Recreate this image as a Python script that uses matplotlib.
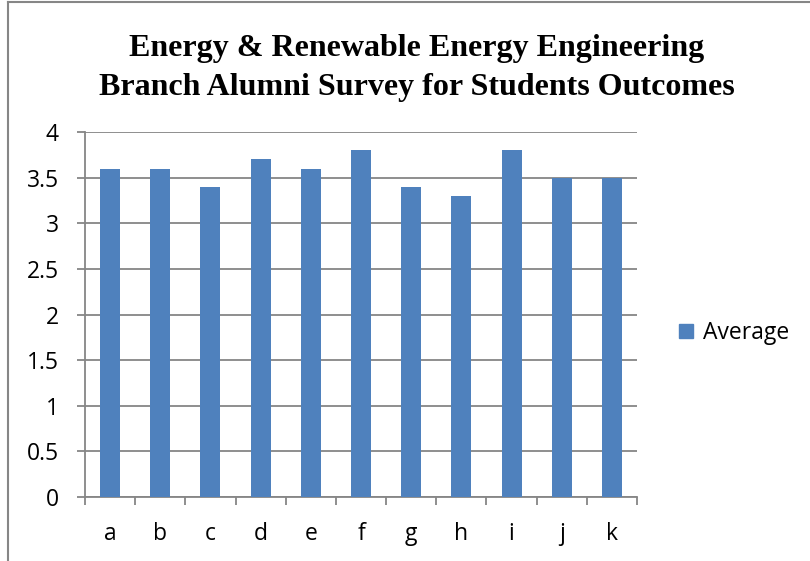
import matplotlib
matplotlib.use("Agg")
import matplotlib.pyplot as plt
from matplotlib.lines import Line2D
from matplotlib.patches import Patch
import numpy as np

categories = ["a", "b", "c", "d", "e", "f", "g", "h", "i", "j", "k"]
averages = [3.6, 3.6, 3.4, 3.7, 3.6, 3.8, 3.4, 3.3, 3.8, 3.5, 3.5]
yticks = [0, 0.5, 1, 1.5, 2, 2.5, 3, 3.5, 4]
ytick_labels = ["0", "0.5", "1", "1.5", "2", "2.5", "3", "3.5", "4"]
title = "Energy & Renewable Energy Engineering\nBranch Alumni Survey for Students Outcomes"
series_name = "Average"

W, H = 810, 561
fig = plt.figure(figsize=(W / 100, H / 100), dpi=100)
fig.patch.set_facecolor("white")

# outer border (left and top)
fig.add_artist(Line2D([7.5 / W, 7.5 / W], [0, 1 - 1.5 / H], transform=fig.transFigure,
                      color="#868686", lw=1.5))
fig.add_artist(Line2D([7.5 / W, 1], [1 - 1.5 / H, 1 - 1.5 / H], transform=fig.transFigure,
                      color="#868686", lw=1.5))

ax = fig.add_axes([85 / W, 1 - 497 / H, (637 - 85) / W, (497 - 132) / H])
x = np.arange(len(categories))
bar_color = "#4F81BD"
ax.bar(x, averages, width=0.4, color=bar_color, zorder=3)

ax.set_xlim(-0.5, len(categories) - 0.5)
ax.set_ylim(0, 4)
ax.set_yticks(yticks)
ax.set_yticklabels(ytick_labels)
ax.set_xticks(x)
ax.set_xticklabels(categories)
ax.set_xticks(np.arange(-0.5, len(categories), 1.0), minor=True)

grid_c = "#868686"
ax.yaxis.grid(True, color=grid_c, lw=1.3, zorder=0)
ax.set_axisbelow(True)
for s in ["top", "right"]:
    ax.spines[s].set_visible(False)
for s in ["left", "bottom"]:
    ax.spines[s].set_color(grid_c)
    ax.spines[s].set_linewidth(1.3)

fs = 16.5
ax.tick_params(axis="y", length=6, width=1.3, color=grid_c, pad=13, labelsize=fs)
ax.tick_params(axis="x", which="major", length=0, pad=18, labelsize=fs)
ax.tick_params(axis="x", which="minor", length=6, width=1.3, color=grid_c)
for lab in ax.get_xticklabels() + ax.get_yticklabels():
    lab.set_fontfamily("Open Sans")

fig.text(417 / W, 1 - 68 / H, title, ha="center", va="center",
         family="Liberation Serif", fontweight="bold", fontsize=23, linespacing=1.45)

handles = [Patch(facecolor=bar_color, edgecolor=bar_color, label=series_name)]
fig.legend(handles=handles, loc="center left", bbox_to_anchor=(679 / W, 1 - 333 / H),
           frameon=False, prop=dict(family="Open Sans", size=fs),
           handlelength=0.6, handleheight=0.6, handletextpad=0.45, borderaxespad=0,
           borderpad=0)

fig.savefig("out.png", dpi=100, facecolor="white")
